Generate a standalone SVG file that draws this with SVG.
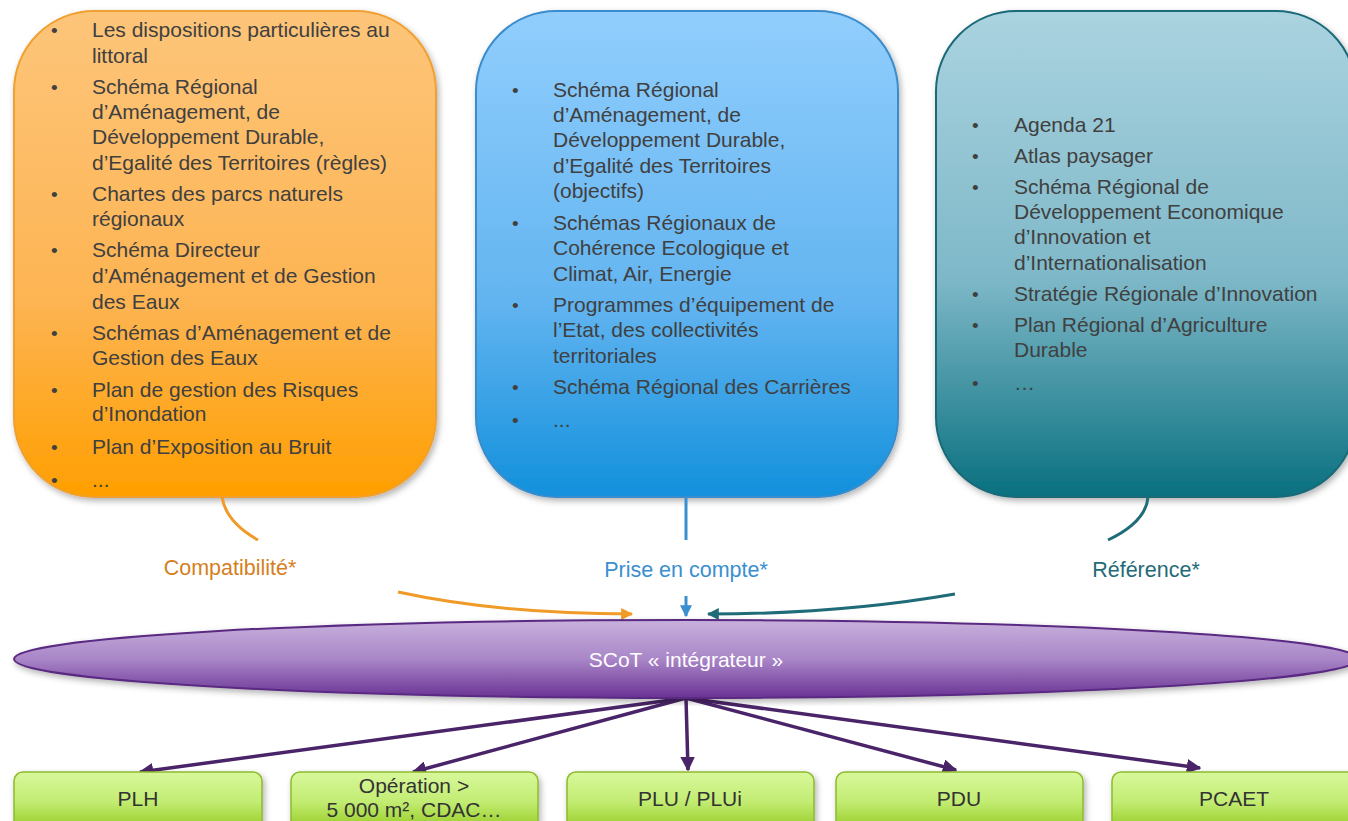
<svg xmlns="http://www.w3.org/2000/svg" width="1348" height="821" viewBox="0 0 1348 821">
<style>
.t{font-family:"Liberation Sans",Arial,sans-serif;font-size:21px;fill:#404040}
.b{font-family:"Liberation Sans",Arial,sans-serif;font-size:19px;fill:#404040}
.lbl{font-family:"Liberation Sans",Arial,sans-serif;font-size:21.5px;text-anchor:middle}
.g{font-family:"Liberation Sans",Arial,sans-serif;font-size:21px;fill:#333;text-anchor:middle}
.gb{stroke:#8dbb2c;stroke-width:1.5;fill:url(#gG)}
</style>
<defs>
<linearGradient id="gO" x1="0" y1="0" x2="0" y2="1"><stop offset="0" stop-color="#fdc57a"/><stop offset="0.6" stop-color="#fdb452"/><stop offset="1" stop-color="#ff9f00"/></linearGradient>
<linearGradient id="gB" x1="0" y1="0" x2="0" y2="1"><stop offset="0" stop-color="#91cefd"/><stop offset="0.6" stop-color="#62b4f0"/><stop offset="1" stop-color="#1290dc"/></linearGradient>
<linearGradient id="gT" x1="0" y1="0" x2="0" y2="1"><stop offset="0" stop-color="#abd3e0"/><stop offset="0.55" stop-color="#7eb8c8"/><stop offset="1" stop-color="#09707f"/></linearGradient>
<linearGradient id="gP" x1="0" y1="0" x2="0" y2="1"><stop offset="0" stop-color="#c8b1dc"/><stop offset="0.5" stop-color="#a986c8"/><stop offset="1" stop-color="#6a3294"/></linearGradient>
<linearGradient id="gG" x1="0" y1="0" x2="0" y2="1"><stop offset="0" stop-color="#d8f89c"/><stop offset="0.5" stop-color="#c2ec72"/><stop offset="1" stop-color="#92c81c"/></linearGradient>
<filter id="sh" x="-5%" y="-5%" width="110%" height="115%"><feDropShadow dx="2" dy="3" stdDeviation="3" flood-color="#000" flood-opacity="0.3"/></filter>
<marker id="aO" viewBox="0 0 10 10" refX="9" refY="5" markerWidth="4" markerHeight="4" orient="auto" markerUnits="strokeWidth"><path d="M0,0 L10,5 L0,10 Z" fill="#f09a28"/></marker>
<marker id="aB" viewBox="0 0 10 10" refX="9" refY="5" markerWidth="4" markerHeight="4" orient="auto" markerUnits="strokeWidth"><path d="M0,0 L10,5 L0,10 Z" fill="#3a8fd0"/></marker>
<marker id="aT" viewBox="0 0 10 10" refX="9" refY="5" markerWidth="4" markerHeight="4" orient="auto" markerUnits="strokeWidth"><path d="M0,0 L10,5 L0,10 Z" fill="#1f6b78"/></marker>
<marker id="aP" viewBox="0 0 10 10" refX="9" refY="5" markerWidth="4.2" markerHeight="4.2" orient="auto" markerUnits="strokeWidth"><path d="M0,0 L10,5 L0,10 Z" fill="#4a2468"/></marker>
</defs>
<rect width="1348" height="821" fill="#fff"/>

<g id="box-compatibilite">
<rect x="14" y="11" width="422" height="486" rx="80" ry="80" fill="url(#gO)" stroke="#f0a030" stroke-width="2" filter="url(#sh)"/>
<g class="b"><text x="51" y="37">•</text><text x="51" y="94">•</text><text x="51" y="201">•</text><text x="51" y="257">•</text><text x="51" y="340">•</text><text x="51" y="397">•</text><text x="51" y="454">•</text><text x="51" y="487">•</text></g>
<g class="t">
<text x="92" y="37">Les dispositions particulières au</text>
<text x="92" y="63">littoral</text>
<text x="92" y="94">Schéma Régional</text>
<text x="92" y="119">d’Aménagement, de</text>
<text x="92" y="144">Développement Durable,</text>
<text x="92" y="170">d’Egalité des Territoires (règles)</text>
<text x="92" y="201">Chartes des parcs naturels</text>
<text x="92" y="226">régionaux</text>
<text x="92" y="257">Schéma Directeur</text>
<text x="92" y="283">d’Aménagement et de Gestion</text>
<text x="92" y="309">des Eaux</text>
<text x="92" y="340">Schémas d’Aménagement et de</text>
<text x="92" y="365">Gestion des Eaux</text>
<text x="92" y="397">Plan de gestion des Risques</text>
<text x="92" y="421">d’Inondation</text>
<text x="92" y="454">Plan d’Exposition au Bruit</text>
<text x="92" y="487">...</text>
</g>
</g>

<g id="box-prise-en-compte">
<rect x="476" y="11" width="422" height="486" rx="80" ry="80" fill="url(#gB)" stroke="#3a8ccc" stroke-width="2" filter="url(#sh)"/>
<g class="b"><text x="512" y="97">•</text><text x="512" y="230">•</text><text x="512" y="312">•</text><text x="512" y="394">•</text><text x="512" y="427">•</text></g>
<g class="t">
<text x="553" y="97">Schéma Régional</text>
<text x="553" y="122">d’Aménagement, de</text>
<text x="553" y="147">Développement Durable,</text>
<text x="553" y="173">d’Egalité des Territoires</text>
<text x="553" y="198">(objectifs)</text>
<text x="553" y="230">Schémas Régionaux de</text>
<text x="553" y="255">Cohérence Ecologique et</text>
<text x="553" y="281">Climat, Air, Energie</text>
<text x="553" y="312">Programmes d’équipement de</text>
<text x="553" y="337">l’Etat, des collectivités</text>
<text x="553" y="363">territoriales</text>
<text x="553" y="394">Schéma Régional des Carrières</text>
<text x="553" y="427">...</text>
</g>
</g>

<g id="box-reference">
<rect x="936" y="11" width="420" height="486" rx="80" ry="80" fill="url(#gT)" stroke="#1a6a78" stroke-width="2" filter="url(#sh)"/>
<g class="b"><text x="972" y="132">•</text><text x="972" y="163">•</text><text x="972" y="194">•</text><text x="972" y="301">•</text><text x="972" y="332">•</text><text x="972" y="390">•</text></g>
<g class="t">
<text x="1014" y="132">Agenda 21</text>
<text x="1014" y="163">Atlas paysager</text>
<text x="1014" y="194">Schéma Régional de</text>
<text x="1014" y="219">Développement Economique</text>
<text x="1014" y="244">d’Innovation et</text>
<text x="1014" y="270">d’Internationalisation</text>
<text x="1014" y="301">Stratégie Régionale d’Innovation</text>
<text x="1014" y="332">Plan Régional d’Agriculture</text>
<text x="1014" y="357">Durable</text>
<text x="1014" y="390">…</text>
</g>
</g>

<g id="connectors" fill="none">
<path d="M222,497 Q226,522 258,540" stroke="#f09a28" stroke-width="3"/>
<path d="M398,592 Q500,614 632,614" stroke="#f09a28" stroke-width="3" marker-end="url(#aO)"/>
<path d="M686,497 L686,540" stroke="#3a8fd0" stroke-width="3"/>
<path d="M686,596 L686,616" stroke="#3a8fd0" stroke-width="3" marker-end="url(#aB)"/>
<path d="M1148,497 Q1146,522 1108,540" stroke="#1f6b78" stroke-width="3"/>
<path d="M955,594 Q840,614 708,614" stroke="#1f6b78" stroke-width="3" marker-end="url(#aT)"/>
<g stroke="#4a2468" stroke-width="3.5">
<path d="M686,698 L140,772" marker-end="url(#aP)"/>
<path d="M686,698 L413,772" marker-end="url(#aP)"/>
<path d="M686,698 L688,770" marker-end="url(#aP)"/>
<path d="M686,698 L956,770" marker-end="url(#aP)"/>
<path d="M686,698 L1200,768" marker-end="url(#aP)"/>
</g>
</g>

<g id="labels">
<text class="lbl" x="230" y="575" fill="#d57f1e">Compatibilité*</text>
<text class="lbl" x="686" y="577" fill="#3a8fd0">Prise en compte*</text>
<text class="lbl" x="1146" y="577" fill="#1f6b78">Référence*</text>
</g>

<g id="scot">
<ellipse cx="686" cy="659" rx="672" ry="39" fill="url(#gP)" stroke="#5a2a82" stroke-width="2" filter="url(#sh)"/>
<text x="686" y="667" font-family="Liberation Sans,Arial,sans-serif" font-size="21" fill="#fff" text-anchor="middle">SCoT « intégrateur »</text>
</g>

<g id="plh"><rect class="gb" x="14" y="772" width="248" height="60" rx="9" filter="url(#sh)"/><text class="g" x="138" y="806">PLH</text></g>
<g id="operation"><rect class="gb" x="291" y="772" width="247" height="60" rx="9" filter="url(#sh)"/><text class="g" x="414" y="793">Opération &gt;</text><text class="g" x="414" y="817">5 000 m², CDAC…</text></g>
<g id="plu"><rect class="gb" x="567" y="772" width="247" height="60" rx="9" filter="url(#sh)"/><text class="g" x="690" y="806">PLU / PLUi</text></g>
<g id="pdu"><rect class="gb" x="836" y="772" width="247" height="60" rx="9" filter="url(#sh)"/><text class="g" x="959" y="806">PDU</text></g>
<g id="pcaet"><rect class="gb" x="1112" y="772" width="248" height="60" rx="9" filter="url(#sh)"/><text class="g" x="1234" y="806">PCAET</text></g>
</svg>
